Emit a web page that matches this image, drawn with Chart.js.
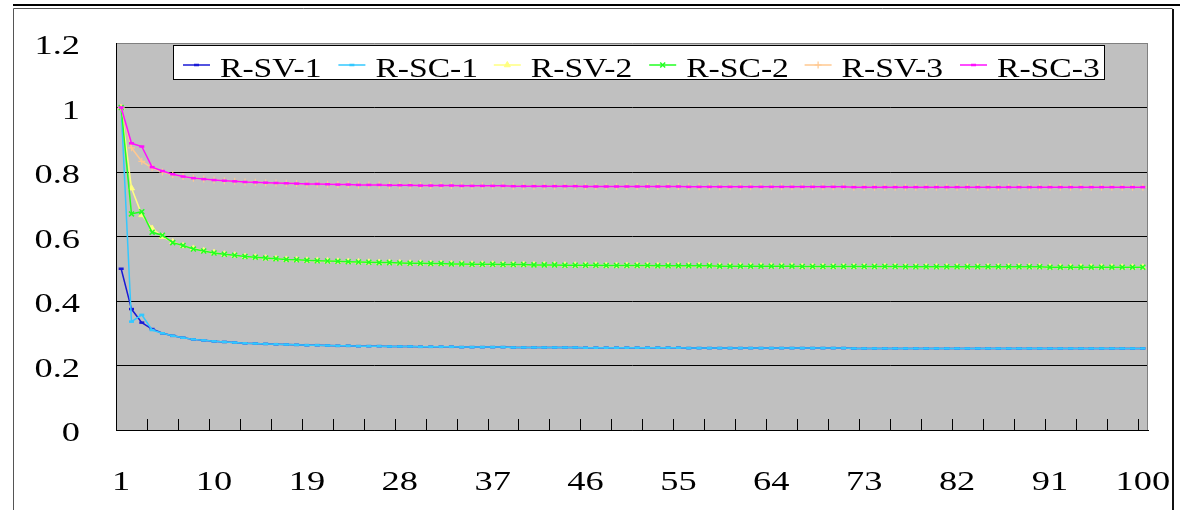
<!DOCTYPE html>
<html>
<head>
<meta charset="utf-8">
<script src="https://cdn.jsdelivr.net/npm/chart.js@4.4.1/dist/chart.umd.min.js"></script>
<style>
  html, body { margin: 0; padding: 0; background: #ffffff; }
  canvas { display: block; }
</style>
</head>
<body>
<canvas id="chart" width="1186" height="510"></canvas>
<script>
// Iteration index 1..100 along the x axis
const categories = Array.from({ length: 100 }, (_, i) => String(i + 1));
// Labels written under the x axis
const xTickLabels = ['1', '10', '19', '28', '37', '46', '55', '64', '73', '82', '91', '100'];
// Value axis
const yMin = 0;
const yMax = 1.2;
const yStep = 0.2;

const seriesNames = ['R-SV-1', 'R-SC-1', 'R-SV-2', 'R-SC-2', 'R-SV-3', 'R-SC-3'];

const rSV1 = [
  0.500, 0.375, 0.333, 0.313, 0.300, 0.292, 0.286, 0.281, 0.278, 0.275,
  0.273, 0.271, 0.269, 0.268, 0.267, 0.266, 0.265, 0.264, 0.263, 0.263,
  0.262, 0.261, 0.261, 0.260, 0.260, 0.260, 0.259, 0.259, 0.259, 0.258,
  0.258, 0.258, 0.258, 0.257, 0.257, 0.257, 0.257, 0.257, 0.256, 0.256,
  0.256, 0.256, 0.256, 0.256, 0.256, 0.255, 0.255, 0.255, 0.255, 0.255,
  0.255, 0.255, 0.255, 0.255, 0.255, 0.254, 0.254, 0.254, 0.254, 0.254,
  0.254, 0.254, 0.254, 0.254, 0.254, 0.254, 0.254, 0.254, 0.254, 0.254,
  0.254, 0.253, 0.253, 0.253, 0.253, 0.253, 0.253, 0.253, 0.253, 0.253,
  0.253, 0.253, 0.253, 0.253, 0.253, 0.253, 0.253, 0.253, 0.253, 0.253,
  0.253, 0.253, 0.253, 0.253, 0.253, 0.253, 0.253, 0.253, 0.253, 0.253
];
const rSC1 = [
  1.000, 0.336, 0.357, 0.310, 0.300, 0.292, 0.286, 0.281, 0.278, 0.275,
  0.273, 0.271, 0.269, 0.268, 0.267, 0.266, 0.265, 0.264, 0.263, 0.263,
  0.262, 0.261, 0.261, 0.260, 0.260, 0.260, 0.259, 0.259, 0.259, 0.258,
  0.258, 0.258, 0.258, 0.257, 0.257, 0.257, 0.257, 0.257, 0.256, 0.256,
  0.256, 0.256, 0.256, 0.256, 0.256, 0.255, 0.255, 0.255, 0.255, 0.255,
  0.255, 0.255, 0.255, 0.255, 0.255, 0.254, 0.254, 0.254, 0.254, 0.254,
  0.254, 0.254, 0.254, 0.254, 0.254, 0.254, 0.254, 0.254, 0.254, 0.254,
  0.254, 0.253, 0.253, 0.253, 0.253, 0.253, 0.253, 0.253, 0.253, 0.253,
  0.253, 0.253, 0.253, 0.253, 0.253, 0.253, 0.253, 0.253, 0.253, 0.253,
  0.253, 0.253, 0.253, 0.253, 0.253, 0.253, 0.253, 0.253, 0.253, 0.253
];
const rSV2 = [
  1.000, 0.750, 0.667, 0.625, 0.600, 0.583, 0.571, 0.563, 0.556, 0.550,
  0.545, 0.542, 0.538, 0.536, 0.533, 0.531, 0.529, 0.528, 0.526, 0.525,
  0.524, 0.523, 0.522, 0.521, 0.520, 0.519, 0.519, 0.518, 0.517, 0.517,
  0.516, 0.516, 0.515, 0.515, 0.514, 0.514, 0.514, 0.513, 0.513, 0.513,
  0.512, 0.512, 0.512, 0.511, 0.511, 0.511, 0.511, 0.510, 0.510, 0.510,
  0.510, 0.510, 0.509, 0.509, 0.509, 0.509, 0.509, 0.509, 0.508, 0.508,
  0.508, 0.508, 0.508, 0.508, 0.508, 0.508, 0.507, 0.507, 0.507, 0.507,
  0.507, 0.507, 0.507, 0.507, 0.507, 0.507, 0.506, 0.506, 0.506, 0.506,
  0.506, 0.506, 0.506, 0.506, 0.506, 0.506, 0.506, 0.506, 0.506, 0.506,
  0.505, 0.505, 0.505, 0.505, 0.505, 0.505, 0.505, 0.505, 0.505, 0.505
];
const rSC2 = [
  1.000, 0.670, 0.677, 0.613, 0.604, 0.581, 0.572, 0.561, 0.555, 0.549,
  0.545, 0.542, 0.538, 0.536, 0.533, 0.531, 0.529, 0.528, 0.526, 0.525,
  0.524, 0.523, 0.522, 0.521, 0.520, 0.519, 0.519, 0.518, 0.517, 0.517,
  0.516, 0.516, 0.515, 0.515, 0.514, 0.514, 0.514, 0.513, 0.513, 0.513,
  0.512, 0.512, 0.512, 0.511, 0.511, 0.511, 0.511, 0.510, 0.510, 0.510,
  0.510, 0.510, 0.509, 0.509, 0.509, 0.509, 0.509, 0.509, 0.508, 0.508,
  0.508, 0.508, 0.508, 0.508, 0.508, 0.508, 0.507, 0.507, 0.507, 0.507,
  0.507, 0.507, 0.507, 0.507, 0.507, 0.507, 0.506, 0.506, 0.506, 0.506,
  0.506, 0.506, 0.506, 0.506, 0.506, 0.506, 0.506, 0.506, 0.506, 0.506,
  0.505, 0.505, 0.505, 0.505, 0.505, 0.505, 0.505, 0.505, 0.505, 0.505
];
const rSV3 = [
  1.000, 0.875, 0.833, 0.813, 0.800, 0.792, 0.786, 0.781, 0.778, 0.775,
  0.773, 0.771, 0.769, 0.768, 0.767, 0.766, 0.765, 0.764, 0.763, 0.763,
  0.762, 0.761, 0.761, 0.760, 0.760, 0.760, 0.759, 0.759, 0.759, 0.758,
  0.758, 0.758, 0.758, 0.757, 0.757, 0.757, 0.757, 0.757, 0.756, 0.756,
  0.756, 0.756, 0.756, 0.756, 0.756, 0.755, 0.755, 0.755, 0.755, 0.755,
  0.755, 0.755, 0.755, 0.755, 0.755, 0.754, 0.754, 0.754, 0.754, 0.754,
  0.754, 0.754, 0.754, 0.754, 0.754, 0.754, 0.754, 0.754, 0.754, 0.754,
  0.754, 0.753, 0.753, 0.753, 0.753, 0.753, 0.753, 0.753, 0.753, 0.753,
  0.753, 0.753, 0.753, 0.753, 0.753, 0.753, 0.753, 0.753, 0.753, 0.753,
  0.753, 0.753, 0.753, 0.753, 0.753, 0.753, 0.753, 0.753, 0.753, 0.753
];
const rSC3 = [
  1.000, 0.889, 0.879, 0.815, 0.803, 0.793, 0.786, 0.781, 0.778, 0.775,
  0.773, 0.771, 0.769, 0.768, 0.767, 0.766, 0.765, 0.764, 0.763, 0.763,
  0.762, 0.761, 0.761, 0.760, 0.760, 0.760, 0.759, 0.759, 0.759, 0.758,
  0.758, 0.758, 0.758, 0.757, 0.757, 0.757, 0.757, 0.757, 0.756, 0.756,
  0.756, 0.756, 0.756, 0.756, 0.756, 0.755, 0.755, 0.755, 0.755, 0.755,
  0.755, 0.755, 0.755, 0.755, 0.755, 0.754, 0.754, 0.754, 0.754, 0.754,
  0.754, 0.754, 0.754, 0.754, 0.754, 0.754, 0.754, 0.754, 0.754, 0.754,
  0.754, 0.753, 0.753, 0.753, 0.753, 0.753, 0.753, 0.753, 0.753, 0.753,
  0.753, 0.753, 0.753, 0.753, 0.753, 0.753, 0.753, 0.753, 0.753, 0.753,
  0.753, 0.753, 0.753, 0.753, 0.753, 0.753, 0.753, 0.753, 0.753, 0.753
];

const seriesValues = [rSV1, rSC1, rSV2, rSC2, rSV3, rSC3];
const seriesColors = ['#1a1ad6', '#33c8ff', '#ffff80', '#22ff22', '#ffc890', '#ff10ff'];
const seriesMarkers = [
  { style: 'line', radius: 2.5, width: 2.5 },
  { style: 'line', radius: 2.5, width: 2.5 },
  { style: 'triangle', radius: 3.5, width: 1 },
  { style: 'crossRot', radius: 3.5, width: 1.5 },
  { style: 'cross', radius: 3.5, width: 1.2 },
  { style: 'line', radius: 2.5, width: 2.5 }
];

const SERIF = '"Liberation Serif", "Times New Roman", serif';

// Gray plot area and the white frame around the whole chart
const backdropPlugin = {
  id: 'backdrop',
  beforeDraw(chart) {
    const { ctx, chartArea: a } = chart;
    ctx.save();
    ctx.fillStyle = '#ffffff';
    ctx.fillRect(0, 0, chart.width, chart.height);
    // rule across the top
    ctx.fillStyle = '#000000';
    ctx.fillRect(13, 4, 1167, 2);
    // frame
    ctx.strokeStyle = '#555555';
    ctx.lineWidth = 1;
    ctx.beginPath();
    ctx.moveTo(13.5, chart.height + 2);
    ctx.lineTo(13.5, 8.5);
    ctx.lineTo(1172.5, 8.5);
    ctx.stroke();
    ctx.strokeStyle = '#111111';
    ctx.lineWidth = 2;
    ctx.beginPath();
    ctx.moveTo(1173, 9);
    ctx.lineTo(1173, chart.height + 2);
    ctx.stroke();
    // plot background
    ctx.fillStyle = '#c0c0c0';
    ctx.fillRect(a.left, a.top, a.right - a.left, a.bottom - a.top);
    ctx.restore();
  }
};

// Right edge of the plot and the small category tick marks inside it
const plotEdgesPlugin = {
  id: 'plotEdges',
  afterDatasetsDraw(chart) {
    const { ctx, chartArea: a } = chart;
    const x = chart.scales.x;
    ctx.save();
    ctx.strokeStyle = '#808080';
    ctx.lineWidth = 1;
    ctx.beginPath();
    ctx.moveTo(Math.round(a.right) - 0.5, a.top);
    ctx.lineTo(Math.round(a.right) - 0.5, a.bottom);
    ctx.stroke();
    ctx.strokeStyle = '#000000';
    ctx.beginPath();
    for (let k = 3; k < categories.length; k += 3) {
      const px = Math.round((x.getPixelForValue(k - 1) + x.getPixelForValue(k)) / 2) + 0.5;
      ctx.moveTo(px, a.bottom - 11);
      ctx.lineTo(px, a.bottom);
    }
    ctx.stroke();
    ctx.restore();
  }
};

// Axis numbers in a wide serif face
const axisTextPlugin = {
  id: 'axisText',
  afterDraw(chart) {
    const { ctx, chartArea: a } = chart;
    const xs = chart.scales.x;
    const ys = chart.scales.y;
    ctx.save();
    ctx.fillStyle = '#000000';
    ctx.font = '28px ' + SERIF;
    ctx.textBaseline = 'middle';
    ctx.textAlign = 'right';
    ys.ticks.forEach((t) => {
      const py = ys.getPixelForValue(t.value);
      ctx.save();
      ctx.translate(a.left - 36, py + 4);
      ctx.scale(1.3, 1);
      ctx.fillText(t.label, 0, 0);
      ctx.restore();
    });
    ctx.textAlign = 'center';
    xs.ticks.forEach((t, i) => {
      if (!t.label) return;
      const px = xs.getPixelForTick(i);
      ctx.save();
      ctx.translate(px, a.bottom + 53);
      ctx.scale(1.3, 1);
      ctx.fillText(t.label, 0, 0);
      ctx.restore();
    });
    ctx.restore();
  }
};

// Boxed legend sitting inside the top of the plot
const boxedLegendPlugin = {
  id: 'boxedLegend',
  afterDraw(chart) {
    const { ctx, chartArea: a } = chart;
    const left = a.left + 57;
    const top = 45;
    const width = 932;
    const height = 35;
    ctx.save();
    ctx.fillStyle = '#ffffff';
    ctx.fillRect(left, top, width, height);
    ctx.strokeStyle = '#000000';
    ctx.lineWidth = 1;
    ctx.strokeRect(left + 0.5, top + 0.5, width - 1, height - 1);
    const pitch = 155.4;
    chart.data.datasets.forEach((ds, i) => {
      const x0 = left + 10 + i * pitch;
      const ly = top + 20;
      ctx.strokeStyle = ds.borderColor;
      ctx.lineWidth = 1.5;
      ctx.beginPath();
      ctx.moveTo(x0, ly);
      ctx.lineTo(x0 + 27, ly);
      ctx.stroke();
      ctx.fillStyle = ds.pointBackgroundColor;
      ctx.strokeStyle = ds.pointBorderColor;
      ctx.lineWidth = ds.pointBorderWidth;
      Chart.helpers.drawPoint(ctx, {
        pointStyle: ds.pointStyle,
        radius: ds.pointRadius,
        borderWidth: ds.pointBorderWidth,
        rotation: 0
      }, x0 + 13.5, ly);
      ctx.fillStyle = '#000000';
      ctx.font = '28px ' + SERIF;
      ctx.textAlign = 'left';
      ctx.textBaseline = 'alphabetic';
      ctx.save();
      ctx.translate(x0 + 37, top + 32);
      ctx.scale(1.2, 1);
      ctx.fillText(ds.label, 0, 0);
      ctx.restore();
    });
    ctx.restore();
  }
};

const datasets = seriesNames.map((name, i) => ({
  label: name,
  data: seriesValues[i],
  borderColor: seriesColors[i],
  backgroundColor: seriesColors[i],
  borderWidth: 1.5,
  tension: 0,
  fill: false,
  pointStyle: seriesMarkers[i].style,
  pointRadius: seriesMarkers[i].radius,
  pointBorderWidth: seriesMarkers[i].width,
  pointBackgroundColor: seriesColors[i],
  pointBorderColor: seriesColors[i],
  pointHoverRadius: seriesMarkers[i].radius,
  order: seriesNames.length - i
}));

new Chart(document.getElementById('chart'), {
  type: 'line',
  data: { labels: categories, datasets },
  options: {
    responsive: false,
    animation: false,
    devicePixelRatio: 1,
    layout: { padding: { left: 0, top: 43, right: 38, bottom: 0 } },
    plugins: {
      legend: { display: false },
      tooltip: { enabled: false },
      title: { display: false }
    },
    scales: {
      x: {
        type: 'category',
        offset: true,
        grid: { display: false },
        border: { display: true, color: '#000000', width: 1 },
        ticks: {
          autoSkip: false,
          maxRotation: 0,
          minRotation: 0,
          color: 'rgba(0,0,0,0)',
          font: { family: SERIF, size: 14 },
          callback(value, index) {
            const lbl = categories[index];
            return xTickLabels.includes(lbl) ? lbl : '';
          }
        },
        afterFit(scale) { scale.height = 80; }
      },
      y: {
        min: yMin,
        max: yMax,
        grid: {
          drawTicks: false,
          color: (c) => (c.tick && c.tick.value > yMax - 0.01 ? '#808080' : '#000000'),
          lineWidth: 1
        },
        border: { display: true, color: '#000000', width: 1 },
        ticks: {
          stepSize: yStep,
          color: 'rgba(0,0,0,0)',
          font: { family: SERIF, size: 14 },
          callback(value) { return String(Math.round(value * 10) / 10); }
        },
        afterFit(scale) { scale.width = 116; }
      }
    }
  },
  plugins: [backdropPlugin, plotEdgesPlugin, axisTextPlugin, boxedLegendPlugin]
});
</script>
</body>
</html>
